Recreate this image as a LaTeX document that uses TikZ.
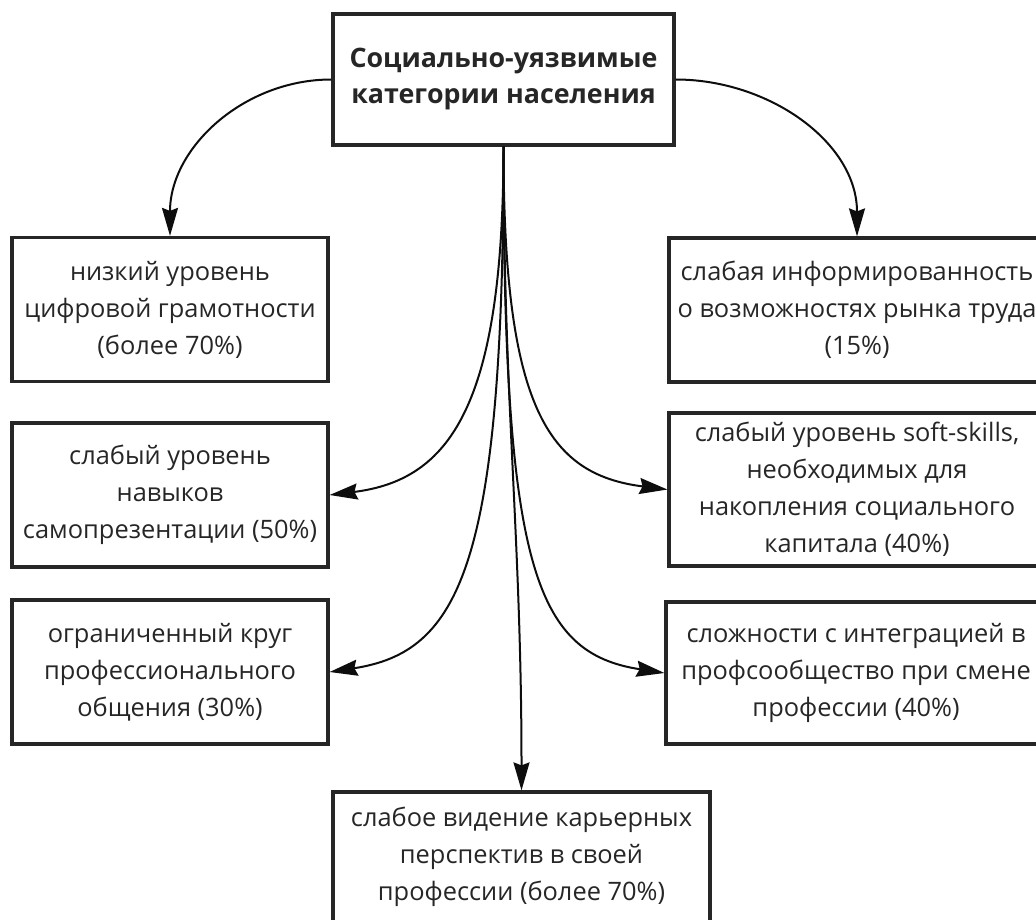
\documentclass[tikz,border=0pt]{standalone}
\usepackage{fontspec}
\setmainfont{Open Sans}
\usetikzlibrary{positioning, calc}
\usetikzlibrary{arrows.meta}

\begin{document}
\begin{tikzpicture}[x=0.5pt,y=-0.5pt,->,>={Stealth[length=14pt,width=8pt,inset=1.5pt]},line width=1pt,draw=black!95]
 	\tikzstyle{c-node}=[draw=black!85,line width=1.6pt,align=center,inner sep=0pt,text=black!85,font=\fontsize{12.7}{18.5}\selectfont]
 	\tikzstyle{l-node}=[c-node,minimum width=158pt,minimum height=72pt]
 	\tikzstyle{r-node}=[c-node,minimum width=188pt,minimum height=72pt]
 	\clip (0,0) rectangle (1036,919);

 	% top
 	\node[c-node,minimum width=170.5pt,minimum height=65.5pt,font=\fontsize{13.4}{18}\selectfont\bfseries] (groups) at (503.5,79.5) {Социально-уязвимые\\категории населения};

 	% left column
 	\node[l-node] (digital)	at (170,309.5)	{низкий уровень\\цифровой грамотности\\(более 70\%)};
 	\node[l-node] (selfpres)	at (170,495)	{слабый уровень\\навыков\\самопрезентации (50\%)};
 	\node[l-node] (circle)	at (170,672)	{ограниченный круг\\профессионального\\общения (30\%)};

 	% right column
 	\node[r-node] (inform)	at (857,310)	{слабая информированность\\о возможностях рынка труда\\(15\%)};
 	\node[r-node,minimum height=76.5pt] (soft)	at (857,489.5)	{слабый уровень soft-skills,\\необходимых для\\накопления социального\\капитала (40\%)};
 	\node[r-node,minimum width=190pt,minimum height=71pt] (integr)	at (856,673)	{сложности с интеграцией в\\профсообщество при смене\\профессии (40\%)};

 	% bottom
 	\node[c-node,minimum width=188.5pt,minimum height=65pt] (career) at (521.5,857) {слабое видение карьерных\\перспектив в своей\\профессии (более 70\%)};

 	% connectors
 	\path (groups.west)	edge[out=180,in=90]	(digital.north)
 		(groups.east)	edge[out=0,in=90]	(inform.north)
 		(groups.south)	edge[out=-90,in=90]	(career.north);
 	\draw (groups.south) .. controls +(0,260) and +(120,-15) .. (selfpres.east);
 	\draw (groups.south) .. controls +(0,260) and +(-120,-15) .. (soft.west);
 	\draw (groups.south) .. controls +(0,420) and +(130,-20) .. (circle.east);
 	\draw (groups.south) .. controls +(0,420) and +(-130,-20) .. (integr.west);
\end{tikzpicture}
\end{document}
